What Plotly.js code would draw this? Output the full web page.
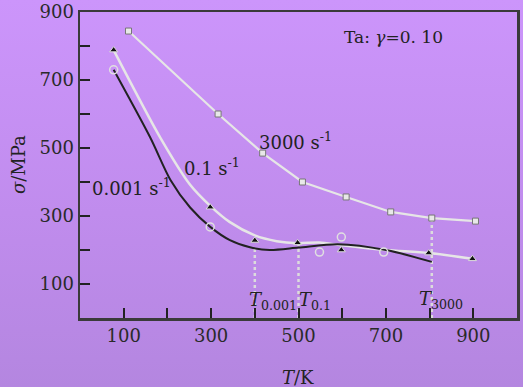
<!DOCTYPE html>
<html>
<head>
<meta charset="utf-8">
<script src="https://cdn.plot.ly/plotly-3.0.1.min.js"></script>
<style>
html,body{margin:0;padding:0;}
body{width:523px;height:387px;background:linear-gradient(to bottom,#cc95fb 0%,#c08ced 55%,#b486e0 100%);overflow:hidden;}
#chart{width:523px;height:387px;}
</style>
</head>
<body>
<div id="chart"></div>
<script>
// Data
const T3000 = [111, 316, 418, 509, 609, 711, 805, 905];
const S3000 = [844, 600, 485, 400, 356, 312, 294, 285];

const T01 = [77, 298, 400, 498, 598, 798, 898];
const S01 = [788, 326, 228, 221, 200, 191, 174];
const T01line = [77, 184, 252, 298, 343, 400, 450, 498, 548, 598, 700, 798, 898];
const S01line = [788, 530, 392, 330, 282, 243, 226, 220, 222, 214, 200, 191, 174];

const T0001 = [77, 298, 548, 598, 695];
const S0001 = [730, 268, 194, 238, 194];
const TfitLine = [77, 161, 207, 252, 298, 343, 389, 434, 500, 590, 700, 805];
const SfitLine = [730, 530, 406, 325, 268, 229, 208, 200, 207, 217, 200, 165];

const TcritX = [400, 500, 805];
const TcritY = [203, 215, 294];

const tickVals = [0, 100, 200, 300, 400, 500, 600, 700, 800, 900];
const tickText = ['', '100', '', '300', '', '500', '', '700', '', '900'];

const serif = 'DejaVu Serif, Liberation Serif, serif';
const traces = [];

// vertical dotted lines at critical temperatures
for (let i = 0; i < TcritX.length; i++) {
  traces.push({x: [TcritX[i], TcritX[i]], y: [0, TcritY[i]], mode: 'lines',
    line: {color: '#dcdcdc', width: 2.5, dash: 'dot'}, hoverinfo: 'skip', showlegend: false});
}
traces.push({x: T3000, y: S3000, mode: 'lines+markers',
  line: {color: '#e6e6e6', width: 2.2},
  marker: {symbol: 'square', size: 6, color: '#e8e8e8', line: {color: '#777', width: 1}}, showlegend: false});
traces.push({x: T01line, y: S01line, mode: 'lines', line: {color: '#e6e6e6', width: 2.5, shape: 'spline', smoothing: 0.8}, showlegend: false});
traces.push({x: T01, y: S01, mode: 'markers',
  marker: {symbol: 'triangle-up', size: 7, color: '#111', line: {color: '#ddd', width: 1}}, showlegend: false});
traces.push({x: TfitLine, y: SfitLine, mode: 'lines', line: {color: '#222', width: 2, shape: 'spline', smoothing: 0.8}, showlegend: false});
traces.push({x: T0001, y: S0001, mode: 'markers',
  marker: {symbol: 'circle-open', size: 8, color: '#e0e0e0', line: {width: 1.5}}, showlegend: false});

const axisCommon = {
  showgrid: false, zeroline: false, ticks: 'inside', ticklen: 10, tickwidth: 2, tickcolor: '#222',
  showline: true, linecolor: '#3a3a3a', linewidth: 2.5, mirror: true,
  tickfont: {family: serif, size: 18, color: '#2a2a2a'}, tickmode: 'array'
};

const txt = {family: serif, size: 18, color: '#222'};
const layout = {
  width: 523, height: 387,
  margin: {l: 80, r: 6, t: 12, b: 69},
  paper_bgcolor: 'rgba(0,0,0,0)', plot_bgcolor: 'rgba(0,0,0,0)',
  xaxis: Object.assign({}, axisCommon, {range: [0, 1000], tickvals: tickVals, ticktext: tickText}),
  yaxis: Object.assign({}, axisCommon, {range: [0, 900], tickvals: tickVals, ticktext: tickText}),
  annotations: [
    {x: 718, y: 826, text: 'Ta: <i>γ</i>=0. 10', showarrow: false, xanchor: 'center', yanchor: 'middle', font: {family: serif, size: 17, color: '#222'}},
    {x: 405, y: 520, text: '3000 s<sup>-1</sup>', showarrow: false, xanchor: 'left', yanchor: 'middle', font: txt},
    {x: 233, y: 444, text: '0.1 s<sup>-1</sup>', showarrow: false, xanchor: 'left', yanchor: 'middle', font: txt},
    {x: 23, y: 385, text: '0.001 s<sup>-1</sup>', showarrow: false, xanchor: 'left', yanchor: 'middle', font: txt},
    {x: 382, y: 50, text: '<i>T</i><sub>0.001</sub>', showarrow: false, xanchor: 'left', yanchor: 'middle', font: txt},
    {x: 497, y: 50, text: '<i>T</i><sub>0.1</sub>', showarrow: false, xanchor: 'left', yanchor: 'middle', font: txt},
    {x: 772, y: 53, text: '<i>T</i><sub>3000</sub>', showarrow: false, xanchor: 'left', yanchor: 'middle', font: txt},
    {xref: 'paper', yref: 'paper', x: (298 - 80) / 437, y: (318 - 377) / 306, text: '<i>T</i>/K', showarrow: false, xanchor: 'center', yanchor: 'middle', font: txt},
    {xref: 'paper', yref: 'paper', x: (18 - 80) / 437, y: (318 - 165) / 306, text: '<i>σ</i>/MPa', textangle: -90, showarrow: false, xanchor: 'center', yanchor: 'middle', font: txt}
  ]
};

Plotly.newPlot('chart', traces, layout, {displayModeBar: false, staticPlot: true});
</script>
</body>
</html>
